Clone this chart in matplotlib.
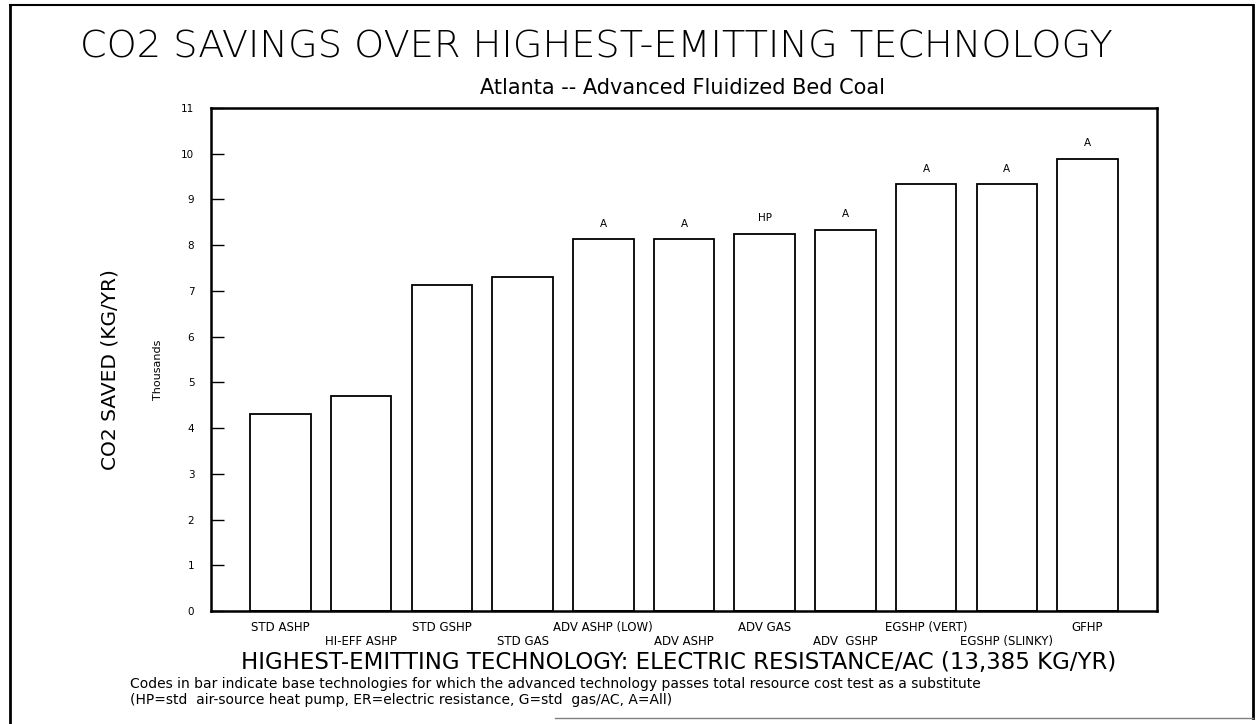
import numpy as np
import matplotlib
matplotlib.use("Agg")
import matplotlib.pyplot as plt
from matplotlib.lines import Line2D

# Data (thousands of kg CO2 per year)
technologies = ["STD ASHP", "HI-EFF ASHP", "STD GSHP", "STD GAS", "ADV ASHP (LOW)",
                "ADV ASHP", "ADV GAS", "ADV  GSHP", "EGSHP (VERT)", "EGSHP (SLINKY)", "GFHP"]
co2_saved = [4.31, 4.70, 7.13, 7.31, 8.13, 8.13, 8.25, 8.34, 9.33, 9.33, 9.89]
codes = ["", "", "", "", "A", "A", "HP", "A", "A", "A", "A"]
y_ticks = list(range(0, 12))

plt.rcParams['font.family'] = ['DejaVu Sans']

W, H = 1258, 724
fig = plt.figure(figsize=(W / 100, H / 100), dpi=100)
ax = fig.add_axes([211 / W, 1 - 611 / H, (1157 - 211) / W, (611 - 108) / H])

x = np.arange(len(technologies))
bars = ax.bar(x, co2_saved, width=0.75, color="white", edgecolor="black", linewidth=1.3)

ax.set_ylim(0, 11)
ax.set_xlim(-0.86, len(technologies) - 1 + 0.86)
ax.set_yticks(y_ticks)
ax.set_yticklabels([str(t) for t in y_ticks], fontsize=7.5)
ax.tick_params(axis="y", direction="in", length=9, width=1, pad=12)
ax.set_xticks([])
for s in ax.spines.values():
    s.set_linewidth(1.8)

# codes above bars
for bar, code in zip(bars, codes):
    if code:
        ax.annotate(code, (bar.get_x() + bar.get_width() / 2, bar.get_height()),
                    xytext=(0, 11), textcoords="offset points",
                    ha="center", va="center", fontsize=7.5)

# staggered category labels
trans = ax.get_xaxis_transform()
for i, name in enumerate(technologies):
    yy = -0.032 if i % 2 == 0 else -0.060
    ax.text(i, yy, name, transform=trans, ha="center", va="center", fontsize=8.5)

# titles and axis labels
fig.text(596 / W, 1 - 47 / H, "CO2 SAVINGS OVER HIGHEST-EMITTING TECHNOLOGY",
         ha="center", va="center", fontsize=27.5, fontweight="light")
fig.text(682 / W, 1 - 88 / H, "Atlanta -- Advanced Fluidized Bed Coal",
         ha="center", va="center", fontsize=15)
fig.text(110 / W, 1 - 370 / H, "CO2 SAVED (KG/YR)", rotation=90,
         ha="center", va="center", fontsize=14.5)
fig.text(158 / W, 1 - 370 / H, "Thousands", rotation=90,
         ha="center", va="center", fontsize=8)
fig.text(679 / W, 1 - 662 / H,
         "HIGHEST-EMITTING TECHNOLOGY: ELECTRIC RESISTANCE/AC (13,385 KG/YR)",
         ha="center", va="center", fontsize=16.5)
fig.text(130 / W, 1 - 684 / H,
         "Codes in bar indicate base technologies for which the advanced technology "
         "passes total resource cost test as a substitute",
         ha="left", va="center", fontsize=10)
fig.text(130 / W, 1 - 700 / H,
         "(HP=std  air-source heat pump, ER=electric resistance, G=std  gas/AC, A=All)",
         ha="left", va="center", fontsize=10)

# page border
fig.add_artist(Line2D([10 / W, 10 / W], [0, 1 - 5 / H], color="black", lw=2))
fig.add_artist(Line2D([10 / W, 1253 / W], [1 - 5 / H, 1 - 5 / H], color="black", lw=1.5))
fig.add_artist(Line2D([1253 / W, 1253 / W], [1 - 5 / H, 1 - 718 / H], color="black", lw=2))
fig.add_artist(Line2D([555 / W, 1253 / W], [1 - 718 / H, 1 - 718 / H], color="gray", lw=1))

fig.savefig("out.png", dpi=100)
